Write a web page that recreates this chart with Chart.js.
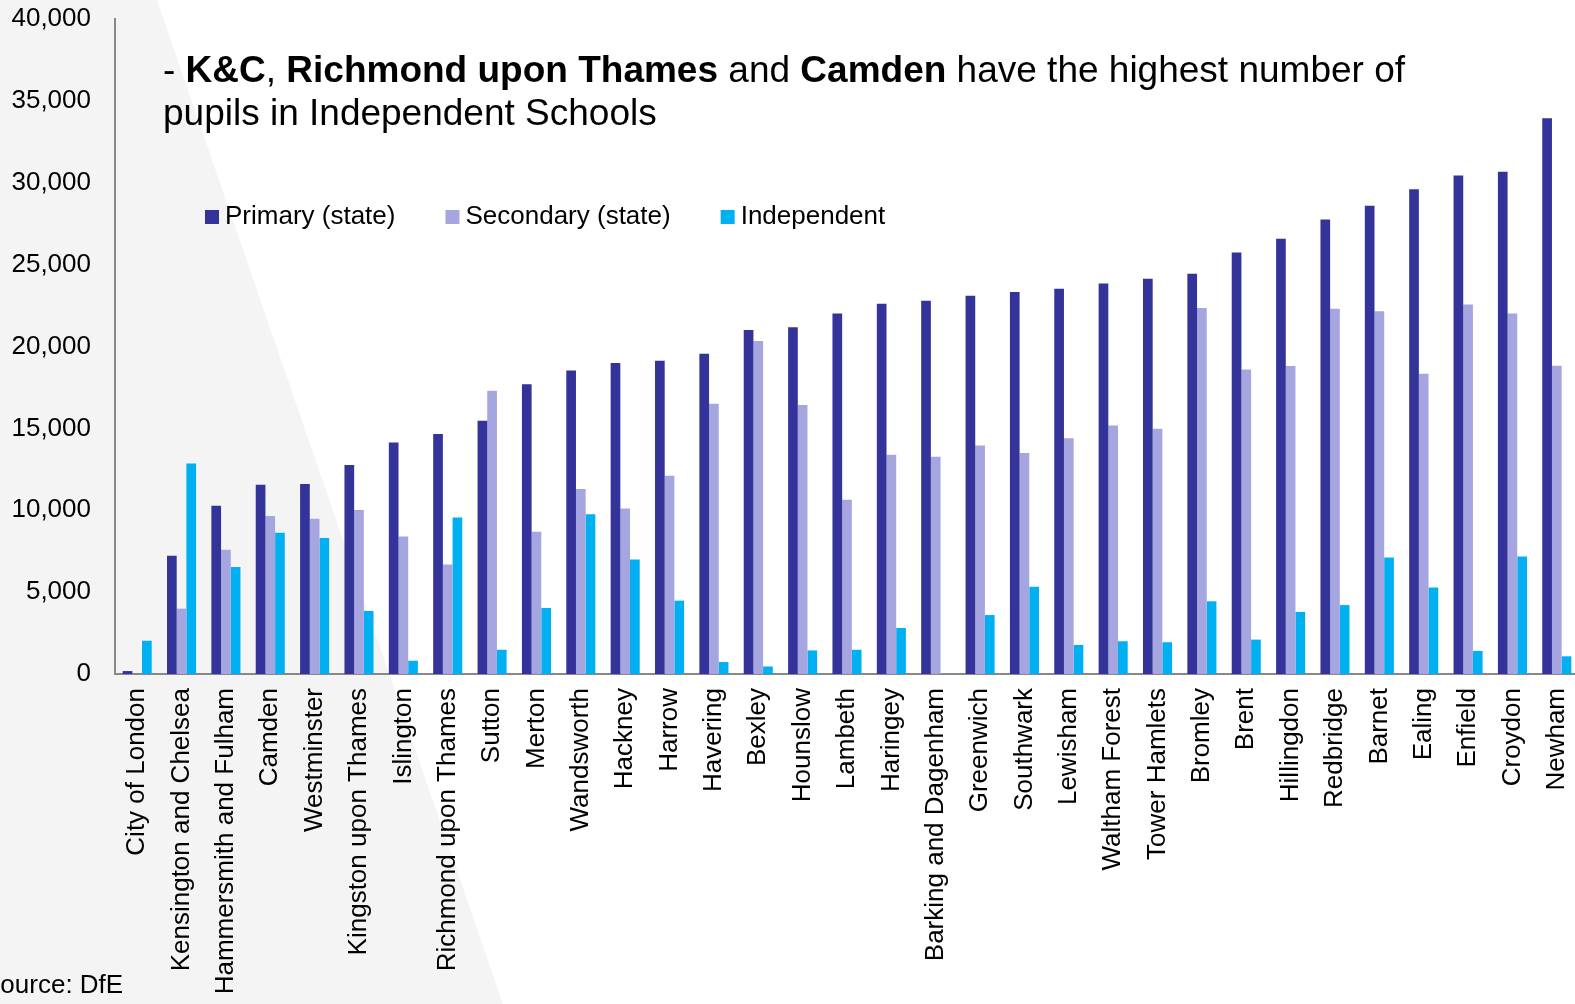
<!DOCTYPE html>
<html>
<head>
<meta charset="utf-8">
<script src="https://cdn.jsdelivr.net/npm/chart.js@4.4.1/dist/chart.umd.min.js"></script>
<style>
  html, body { margin: 0; padding: 0; }
  body { width: 1575px; height: 1004px; overflow: hidden; position: relative; background: #ffffff;
         font-family: "Liberation Sans", Arial, sans-serif; }
  #shade { position: absolute; left: 0; top: 0; width: 1575px; height: 1004px; background: #f4f4f4;
           clip-path: polygon(0 0, 157px 0, 503px 100%, 0 100%); }
  #wrap { position: absolute; left: 0; top: 0; width: 1602px; height: 1004px; }
  #title { position: absolute; left: 163px; top: 48px; font-size: 37px; line-height: 43px; color: #000; white-space: nowrap; }
  #source { position: absolute; left: -17px; top: 969px; font-size: 26px; line-height: 30px; color: #000; }
</style>
</head>
<body>
<div id="shade"></div>
<div id="wrap"><canvas id="myChart" width="1602" height="1004"></canvas></div>
<div id="title">- <b>K&amp;C</b>, <b>Richmond upon Thames</b> and <b>Camden</b> have the highest number of<br>pupils in Independent Schools</div>
<div id="source">Source: DfE</div>
<script>
const boroughs = ['City of London', 'Kensington and Chelsea', 'Hammersmith and Fulham', 'Camden', 'Westminster',
    'Kingston upon Thames', 'Islington', 'Richmond upon Thames', 'Sutton', 'Merton', 'Wandsworth', 'Hackney',
    'Harrow', 'Havering', 'Bexley', 'Hounslow', 'Lambeth', 'Haringey', 'Barking and Dagenham', 'Greenwich',
    'Southwark', 'Lewisham', 'Waltham Forest', 'Tower Hamlets', 'Bromley', 'Brent', 'Hillingdon', 'Redbridge',
    'Barnet', 'Ealing', 'Enfield', 'Croydon', 'Newham'];

const seriesNames = ['Primary (state)', 'Secondary (state)', 'Independent'];

const primary = [180, 7220, 10280, 11560, 11600, 12760, 14140, 14660, 15470, 17690, 18540, 18990, 19130, 19560,
    21010, 21170, 22020, 22610, 22800, 23100, 23330, 23530, 23850, 24140, 24450, 25740, 26580, 27760, 28590,
    29610, 30440, 30670, 33940];

const secondary = [0, 3990, 7590, 9650, 9480, 10020, 8400, 6680, 17300, 8690, 11300, 10110, 12110, 16510,
    20340, 16430, 10640, 13390, 13270, 13960, 13500, 14390, 15170, 14970, 22350, 18600, 18810, 22310, 22150,
    18330, 22560, 22020, 18830];

const independent = [2030, 12860, 6530, 8630, 8310, 3850, 810, 9550, 1480, 4030, 9750, 7000, 4480, 730,
    460, 1440, 1480, 2810, 0, 3600, 5330, 1770, 2000, 1940, 4440, 2100, 3790, 4210, 7110, 5280, 1410, 7180, 1080];

const yTicks = [0, 5000, 10000, 15000, 20000, 25000, 30000, 35000, 40000];

const colors = ['#333399', '#a5a5e0', '#00b0f0'];
const FONT = '"Liberation Sans", Arial, sans-serif';

// legend drawn inside the plot, like the original
const insideLegend = {
    id: 'insideLegend',
    afterDraw(chart) {
        const ctx = chart.ctx;
        ctx.save();
        ctx.font = '26px ' + FONT;
        ctx.textBaseline = 'middle';
        let x = 205;
        const y = 217;
        chart.data.datasets.forEach(ds => {
            ctx.fillStyle = ds.backgroundColor;
            ctx.fillRect(x, y - 7, 14, 14);
            ctx.fillStyle = '#000';
            ctx.fillText(ds.label, x + 20, y);
            x += 20 + ctx.measureText(ds.label).width + 50;
        });
        ctx.restore();
    }
};

const ctx = document.getElementById('myChart').getContext('2d');
const myChart = new Chart(ctx, {
    type: 'bar',
    data: {
        labels: boroughs,
        datasets: [
            { label: seriesNames[0], data: primary, backgroundColor: colors[0] },
            { label: seriesNames[1], data: secondary, backgroundColor: colors[1] },
            { label: seriesNames[2], data: independent, backgroundColor: colors[2] }
        ]
    },
    options: {
        responsive: false,
        animation: false,
        datasets: { bar: { categoryPercentage: 0.655, barPercentage: 1.0 } },
        layout: { padding: 0 },
        plugins: {
            legend: { display: false },
            title: { display: false },
            tooltip: { enabled: false }
        },
        scales: {
            x: {
                grid: { display: false, drawTicks: false },
                border: { display: true, color: '#888888', width: 2 },
                ticks: {
                    autoSkip: false,
                    maxRotation: 90,
                    minRotation: 90,
                    padding: 14,
                    color: '#000',
                    font: { family: FONT, size: 26 }
                },
                afterFit(scale) { scale.height = 330; }
            },
            y: {
                min: 0,
                max: 40000,
                grid: { display: false, drawTicks: false },
                border: { display: true, color: '#888888', width: 2 },
                afterBuildTicks(scale) { scale.ticks = yTicks.map(v => ({ value: v })); },
                ticks: {
                    padding: 24,
                    color: '#000',
                    font: { family: FONT, size: 26 },
                    callback: v => v.toLocaleString('en-US')
                },
                afterFit(scale) {
                    scale.width = 115;
                    scale.paddingTop = 19;
                }
            }
        }
    },
    plugins: [insideLegend]
});
</script>
</body>
</html>
